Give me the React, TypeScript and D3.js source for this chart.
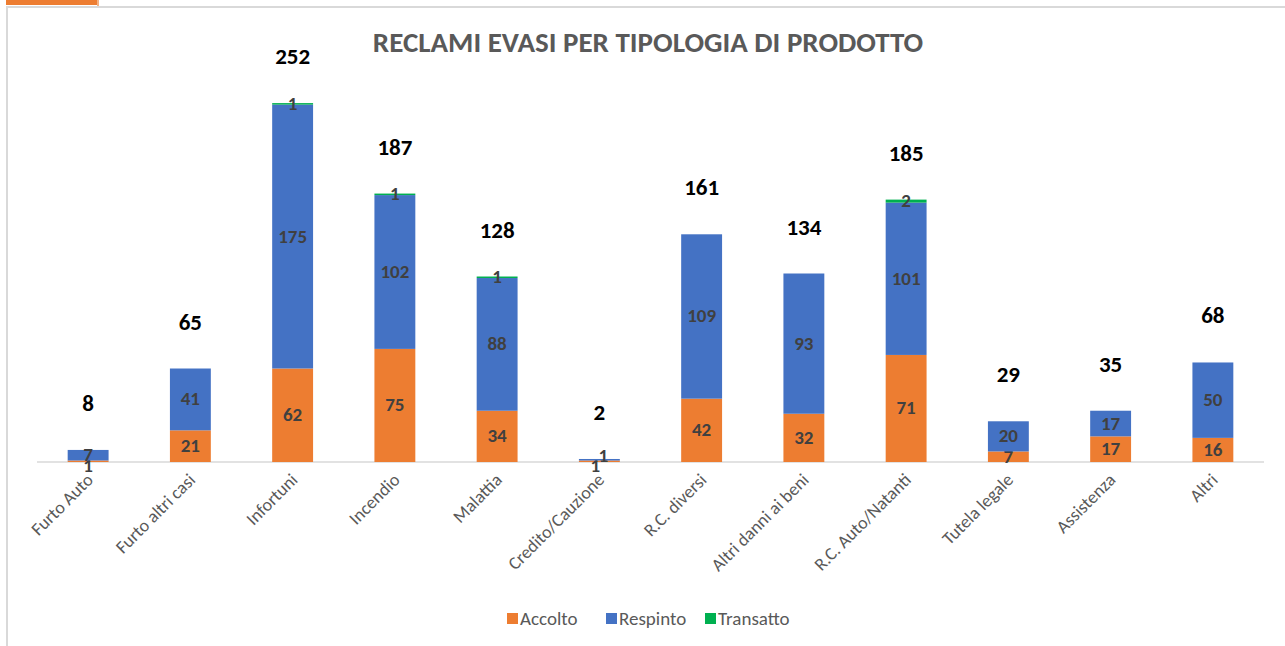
import React, { useRef, useEffect } from 'react';
import * as d3 from 'd3';

const categories = [
  'Furto Auto', 'Furto altri casi', 'Infortuni', 'Incendio', 'Malattia', 'Credito/Cauzione',
  'R.C. diversi', 'Altri danni ai beni', 'R.C. Auto/Natanti', 'Tutela legale', 'Assistenza', 'Altri',
];
const accolto = [1, 21, 62, 75, 34, 1, 42, 32, 71, 7, 17, 16];
const respinto = [7, 41, 175, 102, 88, 1, 109, 93, 101, 20, 17, 50];
const transatto = [0, 0, 1, 1, 1, 0, 0, 0, 2, 0, 0, 0];
const totals = [8, 65, 252, 187, 128, 2, 161, 134, 185, 29, 35, 68];

const seriesNames = ['Accolto', 'Respinto', 'Transatto'];
const colors = ['#ED7D31', '#4472C4', '#00B050'];

const W = 1285;
const H = 646;
const FONT = "Calibri, Carlito, 'Open Sans', sans-serif";

export default function App() {
  const svgRef = useRef<SVGSVGElement>(null);

  useEffect(() => {
    if (!svgRef.current) return;
    const svg = d3.select(svgRef.current);
    svg.selectAll('*').remove();

    // frame / page leftovers
    svg.append('rect').attr('x', 0).attr('y', 0).attr('width', W).attr('height', H).attr('fill', '#fff');
    svg.append('rect').attr('x', 6).attr('y', 0).attr('width', 91).attr('height', 5).attr('fill', '#ED7D31');
    svg.append('rect').attr('x', 97).attr('y', 0).attr('width', 2).attr('height', 6).attr('fill', '#f4b183');
    svg.append('line').attr('x1', 6).attr('x2', W).attr('y1', 7).attr('y2', 7).attr('stroke', '#d9d9d9').attr('stroke-width', 2);
    svg.append('line').attr('x1', 7).attr('x2', 7).attr('y1', 6).attr('y2', H).attr('stroke', '#d9d9d9').attr('stroke-width', 2);

    const x = d3.scaleBand<string>().domain(categories).range([37, 1264]).paddingInner(0.6).paddingOuter(0.3);
    const y = d3.scaleLinear().domain([0, 300]).range([462, 462 - 300 * 1.508]);

    const rows = categories.map((c, i) => ({ cat: c, Accolto: accolto[i], Respinto: respinto[i], Transatto: transatto[i] }));
    const stacked = d3.stack<any>().keys(seriesNames)(rows);

    svg.append('text')
      .attr('x', 648).attr('y', 52)
      .attr('text-anchor', 'middle')
      .attr('font-family', FONT).attr('font-weight', 'bold').attr('font-size', 29)
      .attr('fill', '#595959')
      .text('RECLAMI EVASI PER TIPOLOGIA DI PRODOTTO');

    // baseline
    svg.append('line').attr('x1', 37).attr('x2', 1264).attr('y1', y(0)).attr('y2', y(0))
      .attr('stroke', '#d9d9d9').attr('stroke-width', 1.5);

    stacked.forEach((layer, si) => {
      const g = svg.append('g');
      g.selectAll('rect').data(layer).enter().append('rect')
        .attr('x', d => x(d.data.cat)!)
        .attr('width', x.bandwidth())
        .attr('y', d => y(d[1]))
        .attr('height', d => y(d[0]) - y(d[1]))
        .attr('fill', colors[si]);
      g.selectAll('text').data(layer.filter(d => d[1] - d[0] > 0)).enter().append('text')
        .attr('x', d => {
          const tiny = y(d[0]) - y(d[1]) < 4 && si < 2;
          return x(d.data.cat)! + x.bandwidth() / 2 + (tiny && d.data.Accolto === d.data.Respinto ? (si === 0 ? -4 : 4) : 0);
        })
        .attr('y', d => {
          const h = y(d[0]) - y(d[1]);
          if (h < 4 && si === 0) return y(d[0]) + 10;
          if (h < 4 && si === 1) return y(d[1]) + 3;
          return (y(d[0]) + y(d[1])) / 2 + 6;
        })
        .attr('text-anchor', 'middle')
        .attr('font-family', FONT).attr('font-weight', 'bold').attr('font-size', 19)
        .attr('fill', '#404040')
        .text(d => d[1] - d[0]);
    });

    // totals
    const top = stacked[stacked.length - 1];
    svg.append('g').selectAll('text').data(categories).enter().append('text')
      .attr('x', c => x(c)! + x.bandwidth() / 2)
      .attr('y', (c, i) => y(top[i][1]) - 39)
      .attr('text-anchor', 'middle')
      .attr('font-family', FONT).attr('font-weight', 'bold').attr('font-size', 23)
      .attr('fill', '#000')
      .text((c, i) => totals[i]);

    // x labels
    svg.append('g').selectAll('text').data(categories).enter().append('text')
      .attr('transform', c => `translate(${x(c)! + x.bandwidth() / 2 + 6},${y(0) + 19}) rotate(-45)`)
      .attr('text-anchor', 'end')
      .attr('font-family', FONT).attr('font-size', 18)
      .attr('fill', '#595959')
      .text(c => c);

    // legend
    const legendX = [507, 606, 705];
    const lg = svg.append('g');
    seriesNames.forEach((s, i) => {
      lg.append('rect').attr('x', legendX[i]).attr('y', 613).attr('width', 11).attr('height', 11).attr('fill', colors[i]);
      lg.append('text').attr('x', legendX[i] + 13).attr('y', 625)
        .attr('font-family', FONT).attr('font-size', 19).attr('fill', '#595959').text(s);
    });
  }, []);

  return (
    <svg ref={svgRef} width={W} height={H} style={{ position: 'fixed', left: 0, top: 0 }} />
  );
}
